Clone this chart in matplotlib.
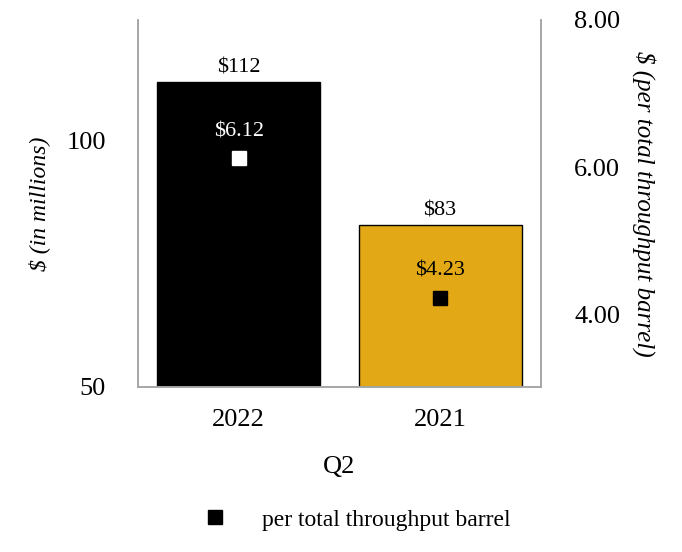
import matplotlib.pyplot as plt
from matplotlib.lines import Line2D

plt.rcParams["font.family"] = ["Liberation Serif", "DejaVu Serif"]

years = ["2022", "2021"]
ebitda = [112, 83]
per_barrel = [6.12, 4.23]
bar_colors = ["#000000", "#E3A815"]
marker_colors = ["#FFFFFF", "#000000"]

fig = plt.figure(figsize=(6.82, 5.52), dpi=100)
ax = fig.add_axes([0.2023, 0.299, 0.5907, 0.665])
ax2 = ax.twinx()

x = list(range(len(years)))
ax.bar(x, [v - 50 for v in ebitda], bottom=50, width=0.81,
       color=bar_colors, edgecolor="black", linewidth=1, zorder=2)
for xi, v in zip(x, ebitda):
    ax.text(xi, v + 0.9, f"${v}", ha="center", va="bottom", fontsize=16)

ax.set_xlim(-0.5, 1.5)
ax.set_ylim(50, 124.6)
ax.set_yticks([50, 100])
ax.set_xticks(x)
ax.set_xticklabels(years, fontsize=19)
ax.tick_params(axis="y", labelsize=19, length=0, pad=23)
ax.tick_params(axis="x", length=0, pad=16)
ax.set_xlabel("Q2", fontsize=19, labelpad=18)
ax.set_ylabel("$ (in millions)", fontsize=17, style="italic", labelpad=12)

ax2.set_ylim(3.02, 8.0)
ax2.set_yticks([4, 6, 8])
ax2.set_yticklabels(["4.00", "6.00", "8.00"])
ax2.tick_params(axis="y", labelsize=19, length=0, pad=24)
ax2.set_ylabel("$ (per total throughput barrel)", fontsize=18, style="italic",
               rotation=270, labelpad=26)
for xi, v, c in zip(x, per_barrel, marker_colors):
    ax2.plot(xi, v, marker="s", markersize=10, color=c, linestyle="none", zorder=3)
    ax2.text(xi, v + 0.23, f"${v:.2f}", ha="center", va="bottom", fontsize=16,
             color="white" if c == "#FFFFFF" else "black")

for a in (ax, ax2):
    a.spines["top"].set_visible(False)
    for s in ("left", "right", "bottom"):
        a.spines[s].set_color("#A6A6A6")
        a.spines[s].set_linewidth(1.2)

handle = Line2D([], [], marker="s", color="black", linestyle="none", markersize=10)
fig.legend([handle], ["per total throughput barrel"], loc="center",
           bbox_to_anchor=(0.515, 0.058), frameon=False, fontsize=17,
           handletextpad=1.0)

fig.savefig("out.png", dpi=100)
